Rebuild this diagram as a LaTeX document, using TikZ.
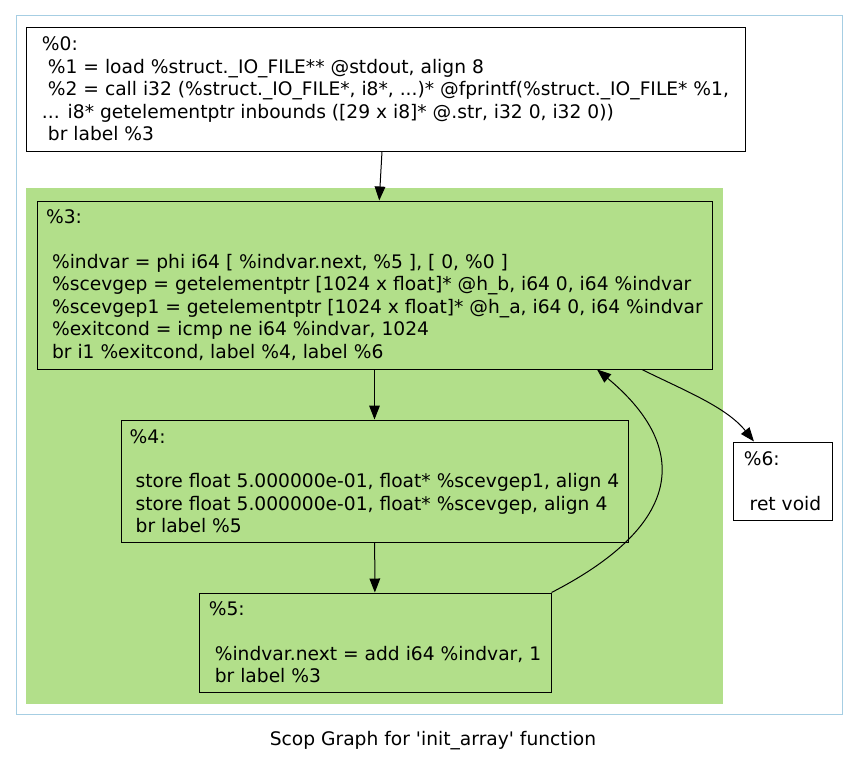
\documentclass[tikz,border=0pt]{standalone}
\usepackage{fontspec}
\setmainfont{DejaVu Sans}
\usetikzlibrary{arrows.meta}
\definecolor{scopgreen}{HTML}{B2DF8A}
\definecolor{regionblue}{HTML}{A6CEE3}
\newcommand{\lsp}{\hspace*{0.318em}}
\begin{document}
\begin{tikzpicture}[x=0.75pt,y=-0.75pt,line width=0.75pt,font=\fontsize{14}{16.8}\selectfont,
	block/.style={draw,rectangle,align=left,inner sep=2pt},
	>={Triangle[length=10.5pt,width=8pt]}]

	\useasboundingbox[fill=white] (0,0) rectangle (859,764);
	\draw[regionblue] (16,15) rectangle (842,714);
	\fill[scopgreen] (26,188) rectangle (723,704);

	\node[block, fill=white, minimum width=539.25pt, minimum height=93pt] (bb0) at (385.5,89) {\%0:\\
		\lsp\%1 = load \%struct.\_IO\_FILE** @stdout, align 8\\
		\lsp\%2 = call i32 (\%struct.\_IO\_FILE*, i8*, ...)* @fprintf(\%struct.\_IO\_FILE* \%1,\\
		... i8* getelementptr inbounds ([29 x i8]* @.str, i32 0, i32 0))\\
		\lsp br label \%3};
	\node[block, minimum width=506.25pt, minimum height=126pt] (bb3) at (374.5,285) {\%3:\\[16.8pt]
		\lsp\%indvar = phi i64 [ \%indvar.next, \%5 ], [ 0, \%0 ]\\
		\lsp\%scevgep = getelementptr [1024 x float]* @h\_b, i64 0, i64 \%indvar\\
		\lsp\%scevgep1 = getelementptr [1024 x float]* @h\_a, i64 0, i64 \%indvar\\
		\lsp\%exitcond = icmp ne i64 \%indvar, 1024\\
		\lsp br i1 \%exitcond, label \%4, label \%6};
	\node[block, minimum width=380.25pt, minimum height=91.5pt] (bb4) at (374.5,481) {\%4:\\[16.8pt]
		\lsp store float 5.000000e-01, float* \%scevgep1, align 4\\
		\lsp store float 5.000000e-01, float* \%scevgep, align 4\\
		\lsp br label \%5};
	\node[block, minimum width=264pt, minimum height=74.25pt] (bb5) at (375,642.5) {\%5:\\[16.8pt]
		\lsp\%indvar.next = add i64 \%indvar, 1\\
		\lsp br label \%3};
	\node[block, fill=white, minimum width=74.25pt, minimum height=58.5pt] (bb6) at (782.5,481) {\%6:\\[16.8pt]
		\lsp ret void};
	\node (title) at (433,741) {Scop Graph for \textquotesingle init\_array\textquotesingle{} function};

	\path[->] (bb0) edge (bb3);
	\path[->] (bb3) edge (bb4);
	\path[->] (bb4) edge (bb5);
	\draw[->] (bb5.north east) .. controls +(140,-72) and +(88,73) .. ([xshift=166.9pt]bb3.south);
	\draw[->] ([xshift=200.6pt]bb3.south) .. controls +(40,20) and +(-28,-35) .. ([xshift=-21.4pt]bb6.north);

\end{tikzpicture}
\end{document}
